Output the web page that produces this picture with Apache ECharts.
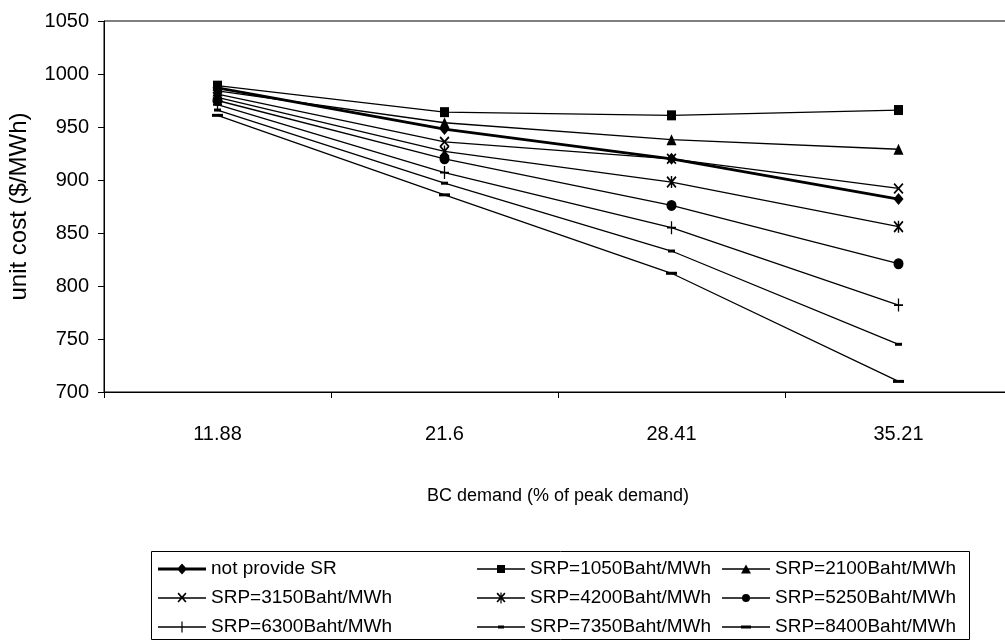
<!DOCTYPE html>
<html>
<head>
<meta charset="utf-8">
<script src="https://cdn.jsdelivr.net/npm/echarts@6/dist/echarts.min.js"></script>
<style>
html,body{margin:0;padding:0;background:#fff;}
#chart{width:1005px;height:642px;}
</style>
</head>
<body>
<div id="chart"></div>
<script>
// Data
var categories = ['11.88', '21.6', '28.41', '35.21'];
var seriesNames = ['not provide SR', 'SRP=1050Baht/MWh', 'SRP=2100Baht/MWh',
  'SRP=3150Baht/MWh', 'SRP=4200Baht/MWh', 'SRP=5250Baht/MWh',
  'SRP=6300Baht/MWh', 'SRP=7350Baht/MWh', 'SRP=8400Baht/MWh'];
var notProvideSR = [987, 948, 920, 882];
var srp1050 = [989, 964, 961, 966];
var srp2100 = [984, 954, 938, 929];
var srp3150 = [981, 936, 920, 892];
var srp4200 = [978, 927, 898, 856];
var srp5250 = [975, 920, 876, 821];
var srp6300 = [971, 907, 855, 782];
var srp7350 = [966, 897, 833, 745];
var srp8400 = [961, 886, 812, 710];
var yTicks = {min: 700, max: 1050, interval: 50};

var FONT = "'Liberation Sans', Arial, sans-serif";

var xPath = 'path://M0,1.2L1.2,0L10,8.8L8.8,10ZM8.8,0L10,1.2L1.2,10L0,8.8Z';
var astPath = 'path://M0,1.2L1.2,0L10,8.8L8.8,10ZM8.8,0L10,1.2L1.2,10L0,8.8ZM4.3,0L5.7,0L5.7,10L4.3,10Z';
var plusPath = 'path://M4.3,0L5.7,0L5.7,10L4.3,10ZM0,4.3L10,4.3L10,5.7L0,5.7Z';

// legend icons: line + marker, box 48 x 12
var corners = 'M0,0L0.02,0L0.02,0.02L0,0.02ZM47.98,11.98L48,11.98L48,12L47.98,12Z';
function lineRect(t) { var a = 6 - t / 2, b = 6 + t / 2; return 'M0,' + a + 'L48,' + a + 'L48,' + b + 'L0,' + b + 'Z'; }
function rectP(x1, y1, x2, y2) { return 'M' + x1 + ',' + y1 + 'L' + x2 + ',' + y1 + 'L' + x2 + ',' + y2 + 'L' + x1 + ',' + y2 + 'Z'; }
var xMark = 'M19.5,1.8L20.7,0.6L28.5,9.4L27.3,10.6ZM27.3,0.6L28.5,1.8L20.7,10.6L19.5,9.4Z';
var legendIcons = [
  'path://' + corners + lineRect(2.8) + 'M24,0.5L29,6L24,11.5L19,6Z',
  'path://' + corners + lineRect(1.3) + rectP(20, 2, 28, 10),
  'path://' + corners + lineRect(1.3) + 'M24,1.5L29,10.5L19,10.5Z',
  'path://' + corners + lineRect(1.3) + xMark,
  'path://' + corners + lineRect(1.3) + xMark + rectP(23.4, 0.5, 24.6, 11.5),
  'path://' + corners + lineRect(1.3) + 'M20,6A4,4 0 1,1 28,6A4,4 0 1,1 20,6Z',
  'path://' + corners + lineRect(1.3) + rectP(23.4, 0.5, 24.6, 11.5),
  'path://' + corners + lineRect(1.3) + rectP(21, 4.6, 27, 7.4),
  'path://' + corners + lineRect(1.3) + rectP(19, 4.4, 29, 7.6)
];

var values = [notProvideSR, srp1050, srp2100, srp3150, srp4200, srp5250, srp6300, srp7350, srp8400];
var symbols = ['diamond', 'rect', 'triangle', xPath, astPath, 'circle', plusPath, 'rect', 'rect'];
var sizes = [[10, 12], [9, 10], [10, 11], [10, 11], [10, 12], [10, 11], [9, 13], [7, 3], [11, 3]];

var series = values.map(function (v, i) {
  return {
    name: seriesNames[i],
    type: 'line',
    data: v,
    symbol: symbols[i],
    symbolSize: sizes[i],
    showSymbol: true,
    lineStyle: {color: '#000', width: i === 0 ? 2.8 : 1.3},
    itemStyle: {color: '#000', borderColor: '#000', borderWidth: 0},
    emphasis: {disabled: true},
    animation: false,
    z: i === 0 ? 3 : 2
  };
});

function legendCol(idx, left) {
  return {
    orient: 'vertical',
    left: left,
    top: 558,
    itemWidth: 48,
    itemHeight: 12,
    itemGap: 7,
    padding: 0,
    data: idx.map(function (i) { return {name: seriesNames[i], icon: legendIcons[i]}; }),
    textStyle: {fontFamily: FONT, fontSize: 19, color: '#000', lineHeight: 22},
    selectedMode: false
  };
}

var chart = echarts.init(document.getElementById('chart'), null, {renderer: 'canvas'});
chart.setOption({
  backgroundColor: '#fff',
  animation: false,
  grid: {left: 104, top: 21, width: 908, height: 371, outerBoundsMode: 'none', containLabel: false,
    show: true, borderColor: '#000', borderWidth: 1, backgroundColor: 'transparent'},
  xAxis: {
    type: 'category',
    data: categories,
    boundaryGap: true,
    name: 'BC demand (% of peak demand)',
    nameLocation: 'middle',
    nameGap: 95,
    nameTextStyle: {fontFamily: FONT, fontSize: 18, color: '#000'},
    axisLine: {lineStyle: {color: '#000', width: 1}},
    axisTick: {show: true, length: 6, lineStyle: {color: '#000'}},
    axisLabel: {fontFamily: FONT, fontSize: 20, color: '#000', margin: 32},
    splitLine: {show: false}
  },
  yAxis: {
    type: 'value',
    min: yTicks.min,
    max: yTicks.max,
    interval: yTicks.interval,
    name: 'unit cost ($/MWh)',
    nameLocation: 'middle',
    nameGap: 73,
    nameTextStyle: {fontFamily: FONT, fontSize: 24, color: '#000'},
    axisLine: {show: true, lineStyle: {color: '#000', width: 1}},
    axisTick: {show: true, length: 6, lineStyle: {color: '#000'}},
    axisLabel: {fontFamily: FONT, fontSize: 20, color: '#000', margin: 15,
      formatter: function (v) { return String(v); }},
    splitLine: {show: false}
  },
  legend: [
    legendCol([0, 3, 6], 158),
    legendCol([1, 4, 7], 477),
    legendCol([2, 5, 8], 722)
  ],
  graphic: [{
    type: 'rect',
    left: 149,
    top: 549,
    shape: {width: 818, height: 88},
    style: {fill: 'none', stroke: '#000', lineWidth: 1},
    silent: true
  }],
  series: series
});
</script>
</body>
</html>
